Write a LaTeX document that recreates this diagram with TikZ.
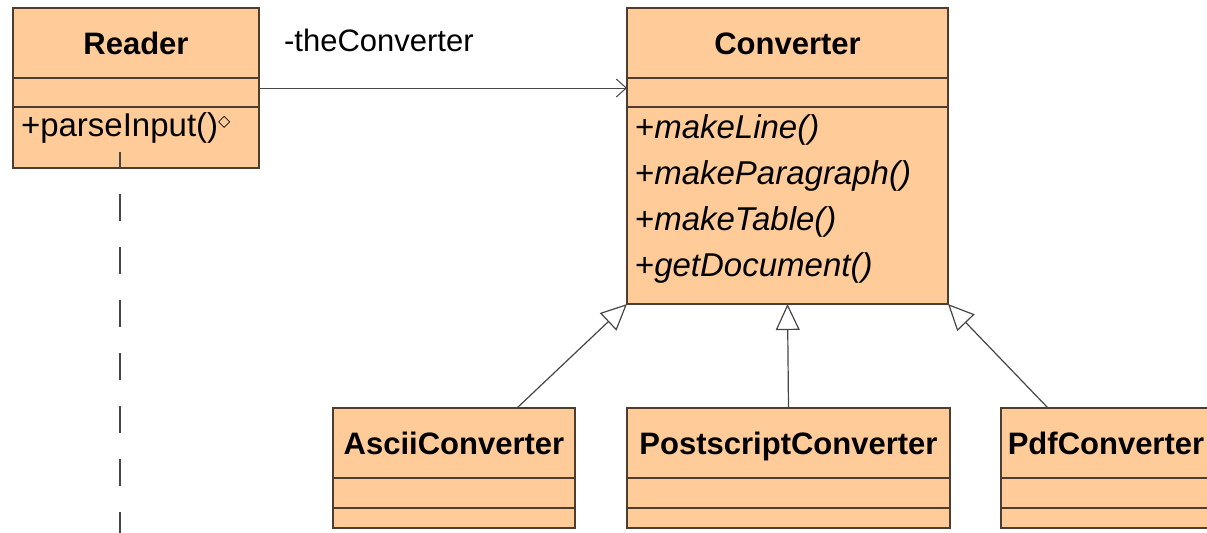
\documentclass[tikz,border=0pt]{standalone}
\usepackage{fontspec}
\setmainfont{Liberation Sans}
\newfontfamily\symfont{DejaVu Sans}
\usepackage{xcolor}
\usepackage{tikz}
\usetikzlibrary{arrows.meta,positioning}
\definecolor{umlfill}{RGB}{255,204,153}
\definecolor{umlline}{RGB}{78,60,46}
\definecolor{wire}{RGB}{70,70,70}
\tikzset{
  ctitle/.style={
    draw=umlline,
    line width=1pt,
    fill=umlfill,
    align=center,
    font=\bfseries\fontsize{15.5}{18}\selectfont,
    text height=11.5pt,
    text depth=0.5pt,
    minimum height=35pt,
    inner xsep=2pt,
    inner ysep=0pt,
    outer sep=0pt
  },
  cpart/.style={
    draw=umlline,
    line width=1pt,
    fill=umlfill,
    align=left,
    font=\fontsize{16.5}{23}\selectfont,
    inner xsep=4pt,
    inner ysep=0pt,
    outer sep=0pt
  },
  assoc/.style={-{Straight Barb[length=5pt,width=9pt]}, line width=0.5pt, draw=wire},
  gen/.style={-{Triangle[open,length=13pt,width=12pt,fill=white]}, line width=0.6pt, draw=wire},
  life/.style={line width=1pt, draw=wire, dash pattern=on 13.5pt off 13pt, dash phase=5.5pt}
}

\begin{document}
\begin{tikzpicture}[x=0.5pt, y=-0.5pt]
  \clip (0,0) rectangle (1207,532);
  \fill[white] (0,0) rectangle (1207,532);

  % Reader
  \node[ctitle, text width=119pt, anchor=north west] (rdtitle) at (13,8) {Reader};
  \node[cpart, text width=115pt, minimum height=14.5pt, below=0pt of rdtitle] (rdattr) {};
  \node[cpart, text width=115pt, minimum height=30.5pt, text depth=13pt, below=0pt of rdattr] (rdmeth)
    {+parseInput(){\symfont\fontsize{8}{8}\selectfont\raisebox{5pt}{◇}}};

  % Converter
  \node[ctitle, text width=156.5pt, anchor=north west] (cvtitle) at (627,8) {Converter};
  \node[cpart, text width=152.5pt, minimum height=14.5pt, below=0pt of cvtitle] (cvattr) {};
  \node[cpart, text width=152.5pt, minimum height=98.5pt, below=0pt of cvattr] (cvmeth)
    {+\textit{makeLine()}\\+\textit{makeParagraph()}\\+\textit{makeTable()}\\+\textit{getDocument()}\par
     \vspace{7pt}\hrule height 0pt};

  % subclasses
  \node[ctitle, text width=117pt, anchor=north west] (ascititle) at (333,408) {AsciiConverter};
  \node[cpart, text width=113pt, minimum height=15pt, below=0pt of ascititle] (asciattr) {};
  \node[cpart, text width=113pt, minimum height=10pt, below=0pt of asciattr] (ascimeth) {};

  \node[ctitle, text width=157.5pt, anchor=north west] (pstitle) at (627,408) {PostscriptConverter};
  \node[cpart, text width=153.5pt, minimum height=15pt, below=0pt of pstitle] (psattr) {};
  \node[cpart, text width=153.5pt, minimum height=10pt, below=0pt of psattr] (psmeth) {};

  \node[ctitle, text width=101pt, anchor=north west] (pdftitle) at (1001,408) {PdfConverter};
  \node[cpart, text width=97pt, minimum height=15pt, below=0pt of pdftitle] (pdfattr) {};
  \node[cpart, text width=97pt, minimum height=10pt, below=0pt of pdfattr] (pdfmeth) {};

  % connectors
  \draw[assoc] ([yshift=2.25pt]rdattr.east) -- ([yshift=2.25pt]cvattr.west)
    node[pos=0, anchor=base west, xshift=9pt, yshift=18.5pt, font=\fontsize{15.5}{18}\selectfont, text=black] {-theConverter};

  \draw[gen] ([xshift=31.5pt]ascititle.north) -- (cvmeth.south west);
  \draw[gen] (pstitle.north) -- (cvmeth.south);
  \draw[gen] ([xshift=-29pt]pdftitle.north) -- (cvmeth.south east);

  \coordinate (lifetop) at (120,152);
  \coordinate (lifebot) at (120,545);
  \draw[life] (lifetop) -- (lifebot);
\end{tikzpicture}
\end{document}
